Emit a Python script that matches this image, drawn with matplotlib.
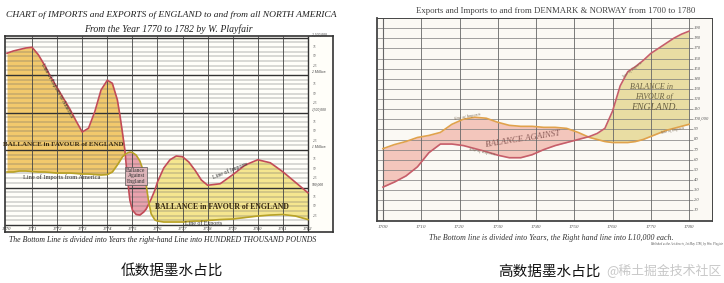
import matplotlib
matplotlib.use("Agg")
import matplotlib.pyplot as plt
import numpy as np

# ---------------- data: England / North America (units: 100,000 pounds) ----------
na_years = [1770, 1770.25, 1770.5, 1770.75, 1771, 1771.25, 1771.5, 1771.75, 1772, 1772.25,
            1772.5, 1772.75, 1773, 1773.25, 1773.5, 1773.75, 1774, 1774.2, 1774.4, 1774.5,
            1774.6, 1774.7, 1774.8, 1774.9, 1775, 1775.15, 1775.3, 1775.45, 1775.55, 1775.65,
            1775.75, 1775.9, 1776, 1776.25, 1776.5, 1776.75, 1777, 1777.25,
            1777.5, 1777.75, 1778, 1778.5, 1779, 1779.5, 1780, 1780.5, 1781, 1781.5, 1782]
na_red = [22.9, 23.2, 23.4, 23.6, 23.7, 22.7, 21.3, 19.7, 18.3, 16.9,
          15.5, 13.9, 12.4, 12.9, 15.1, 18.0, 19.3, 18.9, 16.7, 14.7,
          12.4, 10.0, 6.3, 3.3, 2.0, 1.4, 1.33, 1.73, 2.13, 2.8,
          3.47, 4.67, 5.73, 7.6, 8.7, 9.2, 9.1, 8.4,
          7.3, 6.0, 5.3, 5.5, 6.7, 8.0, 8.7, 8.3, 7.1, 5.7, 4.3]
na_yellow = [7.07, 7.07, 7.2, 7.2, 7.13, 7.07, 7.07, 7.0, 6.93, 6.93,
             6.93, 6.87, 6.8, 6.8, 6.73, 6.67, 6.73, 7.07, 8.0, 8.53,
             9.07, 9.4, 9.6, 9.73, 9.67, 9.33, 8.53, 7.07, 5.33, 3.07,
             1.47, 0.67, 0.53, 0.4, 0.4, 0.4, 0.4, 0.47,
             0.53, 0.53, 0.6, 0.73, 0.8, 1.0, 1.2, 1.33, 1.4, 1.2, 0.73]
na_year_labels = list(range(1770, 1783))
na_scale_labels = {5: "500,000", 10: "1 Million", 15: "1,500,000", 20: "2 Million", 25: "2,500,000"}

# ---------------- data: Denmark & Norway (units: 1,000 pounds) -------------------
dn_years = [1700, 1703, 1706, 1709, 1712, 1715, 1718, 1721, 1724, 1727, 1730, 1733, 1736,
            1739, 1742, 1745, 1748, 1751, 1754, 1756, 1758, 1760, 1762, 1764, 1766, 1768,
            1770, 1772, 1774, 1776, 1778, 1780]
dn_exports = [33, 38, 44, 53, 67, 75.5, 75.5, 74, 71, 68, 64.5, 62, 62,
              65, 70, 74, 77, 80, 83, 86, 91, 108, 133, 147, 152, 158,
              165, 170, 175, 180, 184, 187]
dn_imports = [71, 75, 78, 82, 84, 87, 95, 100, 102, 101, 97, 94, 93,
              93, 92, 92, 91, 87, 82, 80, 78, 77, 77, 77, 78, 80,
              83, 86, 89, 91, 93, 95]
dn_year_labels = list(range(1700, 1781, 10))
dn_scale_values = list(range(10, 200, 10))

W, H = 724, 283
fig = plt.figure(figsize=(W / 100, H / 100), dpi=100)
fig.patch.set_facecolor("white")
SERIF = ["Liberation Serif", "DejaVu Serif"]
CJK = ["Noto Sans CJK SC", "DejaVu Sans"]


def px_axes(x0, y0, x1, y1):
    return fig.add_axes([x0 / W, 1 - y1 / H, (x1 - x0) / W, (y1 - y0) / H])


def ftext(x, y, s, **kw):
    kw.setdefault("ha", "center")
    kw.setdefault("va", "center")
    kw.setdefault("family", SERIF)
    fig.text(x / W, 1 - y / H, s, **kw)


# ======================= LEFT CHART =======================
ax = px_axes(5, 36, 333, 232)
ax.set_facecolor("#fffef9")
ax.set_xlim(1769.92, 1783.0)
ax.set_ylim(-0.93, 25.2)
ax.set_xticks([]); ax.set_yticks([])
for s in ax.spines.values():
    s.set_linewidth(1.2); s.set_color("#333333")

x = np.array(na_years); r = np.array(na_red); yl = np.array(na_yellow)
ax.fill_between(x, r, yl, where=(r >= yl) & (x <= 1775.2), interpolate=True,
                color="#f2c96c", lw=0, zorder=1)
ax.fill_between(x, r, yl, where=(r >= yl) & (x >= 1775.2), interpolate=True,
                color="#f5e68f", lw=0, zorder=1)
ax.fill_between(x, r, yl, where=(yl >= r), interpolate=True,
                color="#e9a2ad", lw=0, zorder=1)

for v in np.arange(0.625, 25.2, 0.625):
    thick = abs(v / 5 - round(v / 5)) < 1e-6
    ax.hlines(v, 1769.92, 1782, color="#333333" if thick else "#666666",
              lw=1.0 if thick else 0.35, zorder=2)
for yr in na_year_labels[1:-1]:
    ax.vlines(yr, -0.93, 25.2, color="#444444", lw=0.6, zorder=2)
ax.vlines(1782, -0.93, 25.2, color="#333333", lw=1.0, zorder=2)
ax.hlines(0, 1769.92, 1782, color="#333333", lw=1.0, zorder=2)

ax.plot(x, r, color="#c24b57", lw=1.2, zorder=4)
ax.plot(x, yl, color="#b8a226", lw=1.2, zorder=4)

for yr in na_year_labels:
    ax.text(yr, -0.47, str(yr), ha="center", va="center", fontsize=3.3,
            style="italic", family=SERIF, color="#333333")
for v in np.arange(1.25, 25.2, 1.25):
    key = int(round(v)) if abs(v - round(v)) < 1e-6 else None
    if key in na_scale_labels:
        ax.text(1782.15, v + 0.35, na_scale_labels[key], fontsize=2.6, style="italic",
                family=SERIF, color="#333333", va="center", ha="left")
    else:
        ax.text(1782.2, v, str(int(round(v / 1.25)) % 4 * 25 or 100), fontsize=2.5,
                style="italic", family=SERIF, color="#555555", va="center", ha="left")

ftext(171, 15, "CHART of IMPORTS and EXPORTS of ENGLAND to and from all NORTH AMERICA",
      fontsize=6.8, style="italic", color="#222222")
ftext(168, 29, "From the Year 1770 to 1782 by W. Playfair", fontsize=7.0,
      style="italic", color="#222222")
ftext(163, 240, "The Bottom Line is divided into Years the right-hand Line into "
      "HUNDRED THOUSAND POUNDS", fontsize=5.6, style="italic", color="#222222")

ftext(63, 144, "BALLANCE in FAVOUR of ENGLAND", fontsize=5.0, color="#3a2c12",
      weight="bold", zorder=6)
ftext(62, 177, "Line of Imports from America", fontsize=4.6, color="#333333", zorder=6)
ftext(222, 207, "BALLANCE in FAVOUR of ENGLAND", fontsize=5.6, color="#3a2c12",
      weight="bold", zorder=6)
ftext(230, 170, "Line of Imports", fontsize=4.2, color="#333333", rotation=22, zorder=6)
ftext(204, 223.5, "Line of Exports", fontsize=4.2, color="#333333", zorder=6)
ftext(136, 176, "Ballance\nAgainst\nEngland", fontsize=4.0, color="#333333",
      linespacing=1.15, zorder=6,
      bbox=dict(boxstyle="square,pad=0.2", fc="#dcb3b8", ec="#555555", lw=0.5))
ftext(57, 90, "Line of Exports to America", fontsize=4.0, color="#333333",
      rotation=-61, zorder=6)

# ======================= RIGHT CHART =======================
bx = px_axes(377, 18, 712, 220.5)
bx.set_facecolor("#fbf9f4")
bx.set_xlim(1698.43, 1786.0)
bx.set_ylim(0, 200)
bx.set_xticks([]); bx.set_yticks([])
for k, s in bx.spines.items():
    s.set_color("#444444")
    s.set_linewidth(1.3 if k in ("left", "bottom") else 0.7)

dx = np.array(dn_years); ex = np.array(dn_exports); im = np.array(dn_imports)
bx.fill_between(dx, im, ex, where=(im >= ex), interpolate=True, color="#f3c6bc", lw=0, zorder=1)
bx.fill_between(dx, im, ex, where=(ex >= im), interpolate=True, color="#e9dda3", lw=0, zorder=1)

for v in dn_scale_values:
    bx.hlines(v, 1698.43, 1781, color="#7a7a7a", lw=0.5, zorder=2)
for yr in dn_year_labels:
    bx.vlines(yr, 0, 200, color="#666666", lw=0.8 if yr == 1700 else 0.6, zorder=2)

bx.plot(dx, im, color="#e0a24c", lw=1.2, zorder=4)
bx.plot(dx, ex, color="#c65e6a", lw=1.2, zorder=4)

for v in dn_scale_values:
    bx.text(1781.2, v, "100,000" if v == 100 else str(v), fontsize=3.3, style="italic",
            family=SERIF, color="#555555", va="center", ha="left")
for yr in dn_year_labels:
    ftext(383 + (yr - 1700) * 3.825, 227, str(yr), fontsize=3.8, style="italic",
          color="#555555")

ftext(556, 11, "Exports and Imports to and from DENMARK & NORWAY from 1700 to 1780",
      fontsize=6.3, color="#444444")
ftext(551, 238, "The Bottom line is divided into Years, the Right hand line into L10,000 each.",
      fontsize=5.7, style="italic", color="#333333")
ftext(686, 243.5, "Published as the Act directs, 1st May 1786, by Wm. Playfair",
      fontsize=2.2, style="italic", color="#555555")

ftext(523, 139, "BALANCE AGAINST", fontsize=6.3, style="italic", color="#8a5c58",
      rotation=9, zorder=6)
ftext(467, 117, "Line of Imports", fontsize=3.2, style="italic", color="#7a6a55",
      rotation=10, zorder=6)
ftext(482, 152, "Line of Exports", fontsize=3.2, style="italic", color="#7a6a55",
      rotation=-12, zorder=6)
ftext(651, 87, "BALANCE in", fontsize=5.8, style="italic", color="#6b6244", zorder=6)
ftext(654, 97, "FAVOUR of", fontsize=5.8, style="italic", color="#6b6244", zorder=6)
ftext(655, 107, "ENGLAND.", fontsize=7.0, style="italic", color="#6b6244", zorder=6)
ftext(632, 70, "Line of Exports", fontsize=2.8, style="italic", color="#7a6a55",
      rotation=38, zorder=6)
ftext(672, 131, "Line of Imports", fontsize=2.8, style="italic", color="#7a6a55",
      rotation=12, zorder=6)

# ======================= captions =======================
ftext(172, 271, "低数据墨水占比", fontsize=10.5, family=CJK, color="#111111")
ftext(549, 272, "高数据墨水占比", fontsize=10.5, family=CJK, color="#111111")
ftext(606, 270, "@稀土掘金技术社区", fontsize=9.3, family=CJK, color="#c8c8c8", ha="left")

fig.savefig("out.png", dpi=100)
